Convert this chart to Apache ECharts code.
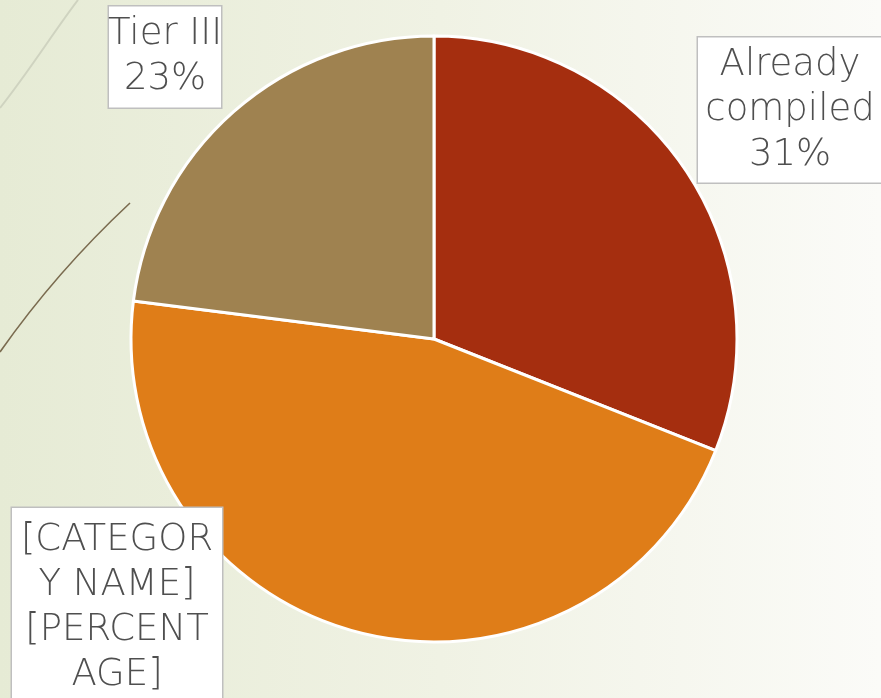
<!DOCTYPE html>
<html>
<head>
<meta charset="utf-8">
<script src="https://cdn.jsdelivr.net/npm/echarts@6/dist/echarts.min.js"></script>
<style>html,body{margin:0;padding:0;}#chart{width:881px;height:698px;}</style>
</head>
<body>
<div id="chart"></div>
<script>
const categories = ['Already compiled', '[CATEGORY NAME]', 'Tier III'];
const values = [31, 46, 23];
const colors = ['#a52e0f', '#df7d18', '#9f8250'];
const labelTexts = ['Already\ncompiled\n31%', '[CATEGOR\nY NAME]\n[PERCENT\nAGE]', 'Tier III\n23%'];

const labelBoxes = [
  { x: 790, y: 110, w: 172, pad: [7, 6, 3, 6] },
  { x: 117, y: 608, w: 198, pad: [10, 6, 10, 6] },
  { x: 165, y: 57, w: 100, pad: [8, 6, 3, 6] }
];

const chart = echarts.init(document.getElementById('chart'));
chart.setOption({
  animation: false,
  graphic: [
    { type: 'rect', z: -10, shape: { x: 0, y: 0, width: 881, height: 698 },
      style: { fill: new echarts.graphic.LinearGradient(0, 0, 1, 0, [
        { offset: 0, color: '#e6ebd5' }, { offset: 0.5, color: '#f0f2e4' }, { offset: 1, color: '#fbfbf8' }]) } },
    { type: 'bezierCurve', z: -5, shape: { x1: 0, y1: 108, x2: 78, y2: 0, cpx1: 30, cpy1: 70, cpx2: 55, cpy2: 30 },
      style: { stroke: '#cfd3c0', lineWidth: 2, fill: null } },
    { type: 'bezierCurve', z: -5, shape: { x1: 0, y1: 352, x2: 130, y2: 203, cpx1: 40, cpy1: 295, cpx2: 85, cpy2: 245 },
      style: { stroke: '#7a6b4f', lineWidth: 1.6, fill: null } }
  ],
  series: [{
    type: 'pie',
    center: [434, 339],
    radius: [0, 303],
    startAngle: 90,
    clockwise: true,
    itemStyle: { borderColor: '#ffffff', borderWidth: 3 },
    labelLine: { show: false },
    label: {
      show: true,
      position: 'outside',
      color: '#4f4f4f',
      fontFamily: 'DejaVu Sans',
      fontWeight: 300,
      fontSize: 37,
      lineHeight: 45,
      align: 'center',
      overflow: 'none',
      backgroundColor: '#ffffff',
      borderColor: '#bfbfbf',
      borderWidth: 1.5,
      formatter: p => labelTexts[p.dataIndex]
    },
    labelLayout: p => {
      const b = labelBoxes[p.dataIndex];
      return { x: b.x, y: b.y, align: 'center', verticalAlign: 'middle', hideOverlap: false, moveOverlap: null };
    },
    data: categories.map((c, i) => ({
      name: c, value: values[i],
      itemStyle: { color: colors[i] },
      label: { width: labelBoxes[i].w, padding: labelBoxes[i].pad }
    }))
  }]
});
</script>
</body>
</html>
